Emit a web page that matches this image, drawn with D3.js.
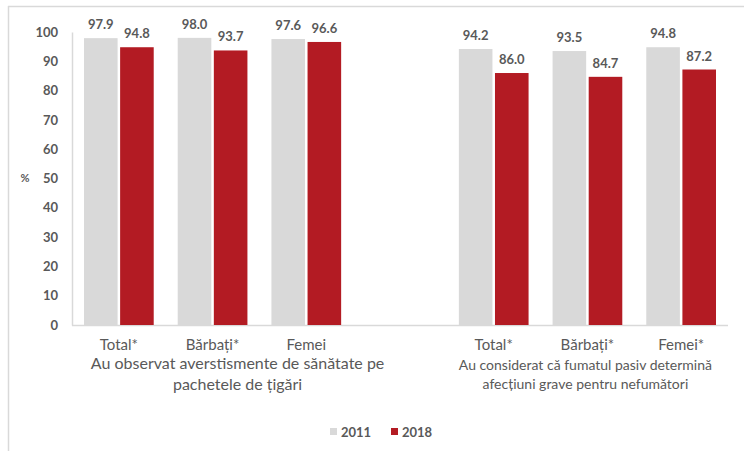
<!DOCTYPE html>
<html>
<head>
<meta charset="utf-8">
<script src="https://cdn.jsdelivr.net/npm/d3@7"></script>
<style>
  body { margin: 0; background: #fff; }
  svg text { font-family: Lato, "Open Sans", sans-serif; fill: #595959; }
</style>
</head>
<body>
<svg id="chart"></svg>
<script>
// chart data
const categories = ["Total*", "Bărbați*", "Femei", "", "Total* ", "Bărbați* ", "Femei*"];
const series = ["2011", "2018"];
const values2011 = [97.9, 98.0, 97.6, null, 94.2, 93.5, 94.8];
const values2018 = [94.8, 93.7, 96.6, null, 86.0, 84.7, 87.2];
const yTicks = [0, 10, 20, 30, 40, 50, 60, 70, 80, 90, 100];
const groupTitles = [
  ["Au observat averstismente de sănătate pe", "pachetele de țigări"],
  ["Au considerat că fumatul pasiv determină", "afecțiuni grave pentru nefumători"]
];

const width = 744, height = 451;
const colors = { "2011": "#d9d9d9", "2018": "#b31b23" };

const svg = d3.select("#chart")
  .attr("width", width)
  .attr("height", height);

// light frame (top and left edges only show)
svg.append("line")
  .attr("x1", 8).attr("y1", 6.5).attr("x2", width).attr("y2", 6.5)
  .attr("stroke", "#d9d9d9").attr("stroke-width", 1.5);
svg.append("line")
  .attr("x1", 8.5).attr("y1", 6).attr("x2", 8.5).attr("y2", height)
  .attr("stroke", "#d9d9d9").attr("stroke-width", 1.5);

const x = d3.scaleBand()
  .domain(categories)
  .range([72, 728])
  .paddingInner(0)
  .paddingOuter(0);

const y = d3.scaleLinear()
  .domain([0, 100])
  .range([325, 32]);

const x1 = d3.scaleBand()
  .domain(series)
  .range([12, x.bandwidth() - 12])
  .paddingInner(0.07);

// y axis
const yAxis = svg.append("g")
  .attr("transform", "translate(72,0)")
  .call(d3.axisLeft(y).tickValues(yTicks).tickSize(0).tickPadding(14));
yAxis.select(".domain").attr("stroke", "#d9d9d9").attr("stroke-width", 1.5);
yAxis.selectAll("text")
  .attr("font-size", 13).attr("font-weight", "bold")
  .style("font-family", "Lato, sans-serif").attr("fill", "#595959");

svg.append("text")
  .attr("x", 25).attr("y", 182)
  .attr("font-size", 11).attr("font-weight", "bold")
  .attr("text-anchor", "middle")
  .text("%");

// x axis line
svg.append("line")
  .attr("x1", 72).attr("x2", 728)
  .attr("y1", y(0) + 0.5).attr("y2", y(0) + 0.5)
  .attr("stroke", "#d9d9d9").attr("stroke-width", 1.5);

const rows = categories.map((c, i) => ({ cat: c, "2011": values2011[i], "2018": values2018[i] }))
  .filter(d => d["2011"] !== null);

const groups = svg.selectAll(".cat")
  .data(rows)
  .enter()
  .append("g")
  .attr("class", "cat")
  .attr("transform", d => `translate(${x(d.cat)},0)`);

groups.selectAll("rect")
  .data(d => series.map(s => ({ s, v: d[s] })))
  .enter()
  .append("rect")
  .attr("x", d => x1(d.s))
  .attr("y", d => y(d.v))
  .attr("width", x1.bandwidth())
  .attr("height", d => y(0) - y(d.v))
  .attr("fill", d => colors[d.s]);

groups.selectAll(".val")
  .data(d => series.map(s => ({ s, v: d[s] })))
  .enter()
  .append("text")
  .attr("class", "val")
  .attr("x", d => x1(d.s) + x1.bandwidth() / 2)
  .attr("y", d => y(d.v) - 9)
  .attr("text-anchor", "middle")
  .attr("font-size", 13).attr("font-weight", "bold")
  .text(d => d.v.toFixed(1));

// category labels
groups.append("text")
  .attr("x", x.bandwidth() / 2)
  .attr("y", 350)
  .attr("text-anchor", "middle")
  .attr("font-size", 15)
  .attr("fill", "#505050")
  .text(d => d.cat.trim());

// group titles (left one sits a little right of its group centre, as in the original)
const titleCenters = [
  (x(categories[0]) + x(categories[2]) + x.bandwidth()) / 2 + 25,
  (x(categories[4]) + x(categories[6]) + x.bandwidth()) / 2 - 2
];
const titleSizes = [16, 14];
const titleLines = [[369, 390], [370, 389]];
groupTitles.forEach((lines, gi) => {
  lines.forEach((t, li) => {
    svg.append("text")
      .attr("x", titleCenters[gi])
      .attr("y", titleLines[gi][li])
      .attr("text-anchor", "middle")
      .attr("font-size", titleSizes[gi])
      .attr("fill", "#505050")
      .text(t);
  });
});

// legend
const legendX = [330, 391];
series.forEach((s, i) => {
  svg.append("rect")
    .attr("x", legendX[i]).attr("y", 428)
    .attr("width", 7).attr("height", 7)
    .attr("fill", colors[s]);
  svg.append("text")
    .attr("x", legendX[i] + 11).attr("y", 437)
    .attr("font-size", 13).attr("font-weight", "bold")
    .text(s);
});
</script>
</body>
</html>
